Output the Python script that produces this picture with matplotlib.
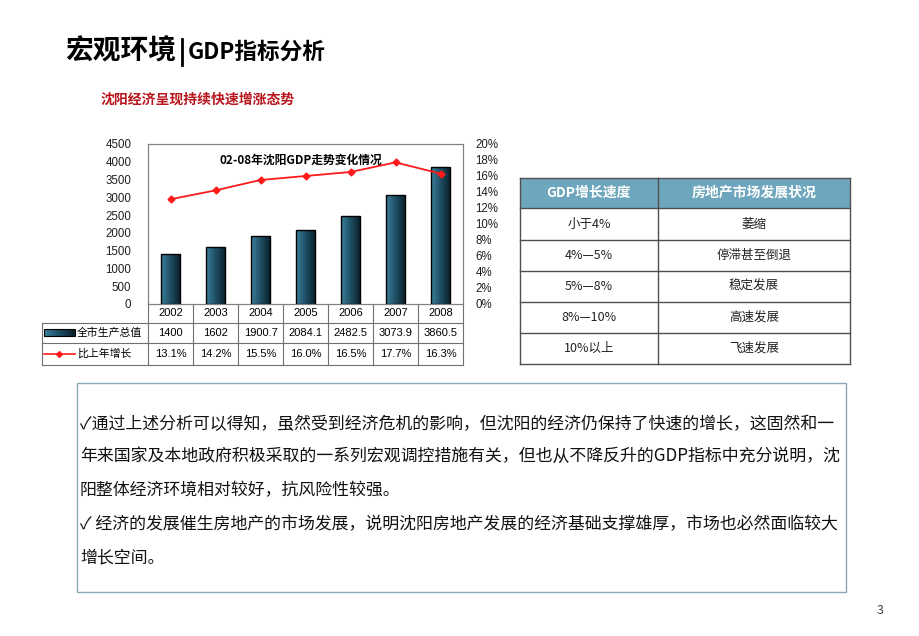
import numpy as np
import matplotlib
matplotlib.use('Agg')
import matplotlib.pyplot as plt
from matplotlib.colors import LinearSegmentedColormap
from matplotlib.patches import Rectangle

plt.rcParams['font.family'] = ['Noto Sans CJK SC', 'DejaVu Sans']

# data
years = ['2002', '2003', '2004', '2005', '2006', '2007', '2008']
gdp = [1400, 1602, 1900.7, 2084.1, 2482.5, 3073.9, 3860.5]
gdp_labels = ['1400', '1602', '1900.7', '2084.1', '2482.5', '3073.9', '3860.5']
growth = [13.1, 14.2, 15.5, 16.0, 16.5, 17.7, 16.3]
growth_labels = ['13.1%', '14.2%', '15.5%', '16.0%', '16.5%', '17.7%', '16.3%']
series_names = ['全市生产总值', '比上年增长']

speed_rows = ['小于4%', '4%—5%', '5%—8%', '8%—10%', '10%以上']
market_rows = ['萎缩', '停滞甚至倒退', '稳定发展', '高速发展', '飞速发展']
table_head = ['GDP增长速度', '房地产市场发展状况']

notes = [
    '✓通过上述分析可以得知，虽然受到经济危机的影响，但沈阳的经济仍保持了快速的增长，这固然和一',
    '年来国家及本地政府积极采取的一系列宏观调控措施有关，但也从不降反升的GDP指标中充分说明，沈',
    '阳整体经济环境相对较好，抗风险性较强。',
    '✓ 经济的发展催生房地产的市场发展，说明沈阳房地产发展的经济基础支撑雄厚，市场也必然面临较大',
    '增长空间。',
]

W, H = 920, 636


def px(x0, y0, x1, y1):
    return [x0 / W, 1 - y1 / H, (x1 - x0) / W, (y1 - y0) / H]


fig = plt.figure(figsize=(W / 100, H / 100), dpi=100)
fig.patch.set_facecolor('white')

# background layer in pixel coordinates
bg = fig.add_axes([0, 0, 1, 1])
bg.set_xlim(0, W)
bg.set_ylim(H, 0)
bg.axis('off')

bg.text(65, 52, '宏观环境', fontsize=20, fontweight='bold', va='center', ha='left')
bg.plot([182, 182], [39, 65], color='black', lw=2)
bg.text(188, 52, 'GDP指标分析', fontsize=16.3, fontweight='bold', va='center', ha='left')
bg.text(101, 100, '沈阳经济呈现持续快速增涨态势', fontsize=10, fontweight='bold',
        color='#b8141c', va='center', ha='left')
bg.text(880, 610, '3', fontsize=9, color='#404040', va='center', ha='center')

# chart
cmap = LinearSegmentedColormap.from_list('bar', ['#3c7f9b', '#1d4d63', '#0a1e29'])
ax = fig.add_axes(px(148, 144, 463, 304))
x = np.arange(len(years))
bars = ax.bar(x, gdp, width=0.44, color='none', edgecolor='black', lw=1, zorder=3)
grad = np.linspace(0, 1, 64).reshape(1, -1)
for b in bars:
    im = ax.imshow(grad, extent=[b.get_x(), b.get_x() + b.get_width(), 0, b.get_height()],
                   cmap=cmap, aspect='auto', zorder=2)
    im.set_clip_path(b)
ax.set_xlim(-0.5, len(years) - 0.5)
ax.set_ylim(0, 4500)
ax.set_yticks(np.arange(0, 4501, 500))
ax.set_xticks([])
ax.tick_params(axis='y', length=0, labelsize=8.3, pad=12, labelcolor='#202020')
for t in ax.get_yticklabels():
    t.set_family('Liberation Sans')
for s in ax.spines.values():
    s.set_color('#808080')

ax2 = ax.twinx()
ax2.plot(x, growth, color='#ff1a1a', lw=1.3, marker='D', ms=3.5, zorder=4)
ax2.set_ylim(0, 20)
ax2.set_yticks(np.arange(0, 21, 2))
ax2.set_yticklabels([f'{v}%' for v in range(0, 21, 2)])
ax2.tick_params(axis='y', length=0, labelsize=8.3, pad=9, labelcolor='#202020')
for t in ax2.get_yticklabels():
    t.set_family('Liberation Sans')
for s in ax2.spines.values():
    s.set_color('#808080')

ax.text(0.486, 0.9, '02-08年沈阳GDP走势变化情况', transform=ax.transAxes, fontsize=8.5,
        fontweight='bold', ha='center', va='center', zorder=5)

# data table under chart
col_w = 45
x0 = 148
lc = '#707070'
for k in range(len(years) + 1):
    bg.plot([x0 + k * col_w] * 2, [304, 365], color=lc, lw=0.8)
bg.plot([42, 42], [323, 365], color=lc, lw=0.8)
bg.plot([42, 463], [323, 323], color=lc, lw=0.8)
bg.plot([42, 463], [343, 343], color=lc, lw=0.8)
bg.plot([42, 463], [365, 365], color=lc, lw=0.8)
for i, yr in enumerate(years):
    cx = x0 + (i + 0.5) * col_w
    bg.text(cx, 313.5, yr, fontsize=8, family='Liberation Sans', ha='center', va='center')
    bg.text(cx, 333, gdp_labels[i], fontsize=8, family='Liberation Sans', ha='center', va='center')
    bg.text(cx, 354, growth_labels[i], fontsize=8, family='Liberation Sans', ha='center', va='center')
# legend keys
key = bg.imshow(grad, extent=[44, 75, 336, 329], cmap=cmap, aspect='auto', zorder=3)
bg.add_patch(Rectangle((44, 329), 31, 7, fill=False, edgecolor='black', lw=0.8, zorder=4))
bg.plot([44, 75], [353.5, 353.5], color='#ff1a1a', lw=1.2)
bg.plot([59.5], [353.5], marker='D', ms=3, color='#ff1a1a')
bg.text(77, 332.5, series_names[0], fontsize=7.8, ha='left', va='center')
bg.text(77, 353.5, series_names[1], fontsize=7.8, ha='left', va='center')
bg.set_xlim(0, W)
bg.set_ylim(H, 0)

# right table
tx0, tmid, tx1 = 520, 658, 850
ty = [178, 208, 240, 271, 302, 333, 364]
bg.add_patch(Rectangle((tx0, ty[0]), tx1 - tx0, ty[1] - ty[0], facecolor='#6ea7bd',
                       edgecolor='none'))
for yv in ty:
    bg.plot([tx0, tx1], [yv, yv], color='#505050', lw=1)
for xv in [tx0, tmid, tx1]:
    bg.plot([xv, xv], [ty[0], ty[-1]], color='#505050', lw=1)
bg.text((tx0 + tmid) / 2, (ty[0] + ty[1]) / 2, table_head[0], color='white', fontsize=10,
        fontweight='bold', ha='center', va='center')
bg.text((tmid + tx1) / 2, (ty[0] + ty[1]) / 2, table_head[1], color='white', fontsize=10,
        fontweight='bold', ha='center', va='center')
for i in range(len(speed_rows)):
    cy = (ty[i + 1] + ty[i + 2]) / 2
    bg.text((tx0 + tmid) / 2, cy, speed_rows[i], fontsize=9, ha='center', va='center',
            color='#222222')
    bg.text((tmid + tx1) / 2, cy, market_rows[i], fontsize=9, ha='center', va='center',
            color='#222222')

# text box
bg.add_patch(Rectangle((77, 383), 846 - 77, 592 - 383, fill=False, edgecolor='#8aaab5', lw=1))
line_y = [424, 456, 490, 524, 557]
for s, yv in zip(notes, line_y):
    bg.text(80, yv, s, fontsize=12.2, ha='left', va='center', color='#111111')

fig.savefig('out.png', dpi=100)
